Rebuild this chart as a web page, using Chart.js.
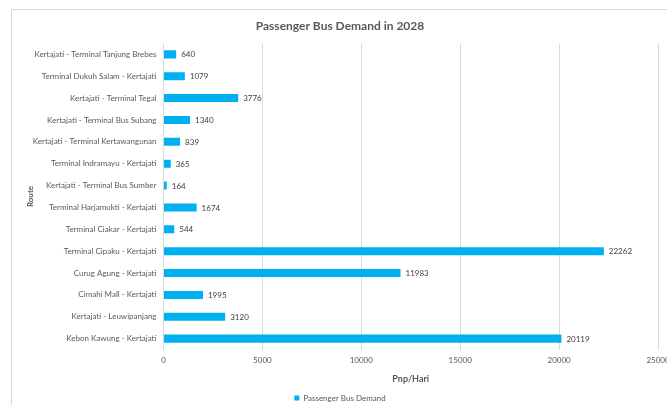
<!DOCTYPE html>
<html>
<head>
<meta charset="utf-8">
<script src="https://cdn.jsdelivr.net/npm/chart.js@4.4.1/dist/chart.umd.min.js"></script>
<style>
  html, body { margin: 0; padding: 0; background: #ffffff; overflow: hidden; }
  #wrap { position: relative; width: 667px; height: 405px; }
  #frame { position: absolute; left: 11px; top: 9px; width: 700px; height: 450px; border: 1px solid #d9d9d9; box-sizing: border-box; }
  canvas { position: absolute; left: 0; top: 0; }
</style>
</head>
<body>
<div id="wrap">
  <div id="frame"></div>
  <canvas id="c" width="667" height="405"></canvas>
</div>
<script>
const categories = [
  "Kertajati - Terminal Tanjung Brebes",
  "Terminal Dukuh Salam - Kertajati",
  "Kertajati - Terminal Tegal",
  "Kertajati - Terminal Bus Subang",
  "Kertajati - Terminal Kertawangunan",
  "Terminal Indramayu - Kertajati",
  "Kertajati - Terminal Bus Sumber",
  "Terminal Harjamukti - Kertajati",
  "Terminal Ciakar - Kertajati",
  "Terminal Cipaku - Kertajati",
  "Curug Agung - Kertajati",
  "Cimahi Mall - Kertajati",
  "Kertajati - Leuwipanjang",
  "Kebon Kawung - Kertajati"
];
const demandValues = [640, 1079, 3776, 1340, 839, 365, 164, 1674, 544, 22262, 11983, 1995, 3120, 20119];
const seriesName = "Passenger Bus Demand";
const chartTitle = "Passenger Bus Demand in 2028";
const xAxisTitle = "Pnp/Hari";
const yAxisTitle = "Route";

const FONT = "Lato, 'Liberation Sans', sans-serif";
const BAR = "#00B0F0";

const valueLabels = {
  id: 'valueLabels',
  afterDatasetsDraw(chart) {
    const ctx = chart.ctx;
    const meta = chart.getDatasetMeta(0);
    ctx.save();
    ctx.font = "8px " + FONT;
    ctx.fillStyle = "#404040";
    ctx.textAlign = "left";
    ctx.textBaseline = "middle";
    meta.data.forEach((bar, i) => {
      ctx.fillText(String(demandValues[i]), bar.x + 5, bar.y + 0.5);
    });
    ctx.restore();
  }
};

new Chart(document.getElementById('c'), {
  type: 'bar',
  data: {
    labels: categories,
    datasets: [{
      label: seriesName,
      data: demandValues,
      backgroundColor: BAR,
      borderWidth: 0,
      categoryPercentage: 1,
      barPercentage: 0.37
    }]
  },
  options: {
    indexAxis: 'y',
    responsive: false,
    animation: false,
    devicePixelRatio: 1,
    layout: { padding: { left: 22, right: 9, top: 0, bottom: -7 } },
    plugins: {
      title: {
        display: true,
        text: chartTitle,
        color: "#595959",
        font: { family: FONT, size: 12, weight: 'bold' },
        padding: { top: 19, bottom: 10 }
      },
      legend: {
        display: true,
        position: 'bottom',
        labels: {
          color: "#595959",
          font: { family: FONT, size: 8 },
          boxWidth: 5,
          boxHeight: 5,
          padding: 1
        }
      },
      tooltip: { enabled: false }
    },
    scales: {
      x: {
        min: 0,
        max: 25000,
        ticks: {
          stepSize: 5000,
          color: "#595959",
          font: { family: FONT, size: 8 },
          padding: 6,
          maxRotation: 0,
          callback: (v) => String(v)
        },
        grid: { color: "#d9d9d9", lineWidth: 1, drawTicks: false },
        border: { display: false },
        title: {
          display: true,
          text: xAxisTitle,
          color: "#595959",
          font: { family: FONT, size: 9, weight: 'bold' },
          padding: { top: 2, bottom: 9 }
        },
        afterFit(scale) { scale.paddingLeft = 0; scale.paddingRight = 0; }
      },
      y: {
        ticks: {
          color: "#595959",
          font: { family: FONT, size: 8 },
          padding: 7,
          autoSkip: false
        },
        grid: { display: false, drawTicks: false },
        border: { display: false },
        title: {
          display: true,
          text: yAxisTitle,
          color: "#595959",
          font: { family: FONT, size: 8, weight: 'bold' },
          padding: { top: 4, bottom: 0 }
        },
        afterFit(scale) { scale.width = 141.5; }
      }
    }
  },
  plugins: [valueLabels]
});
</script>
</body>
</html>
